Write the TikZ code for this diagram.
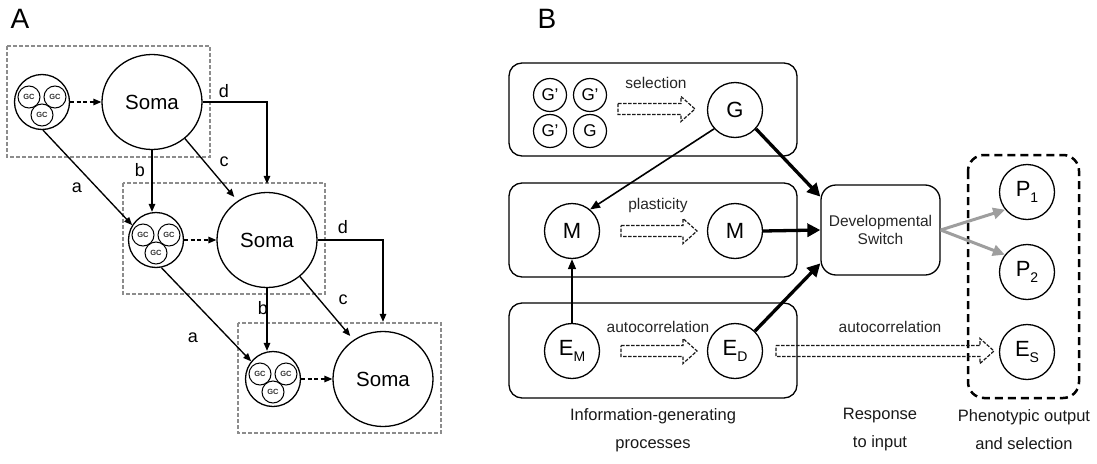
\documentclass[tikz,border=0pt]{standalone}
\usepackage{fontspec}
\setmainfont{Liberation Sans}
\usetikzlibrary{arrows.meta,shapes.geometric,calc}
% lowered subscript inside circle labels
\newcommand\lowsub[1]{\raisebox{-6.5pt}{\fontsize{14}{14}\selectfont #1}}
% cluster of three GC cells inside one circle
\newcommand\gcgroup[3]{%
  \node[gcbig] (#1) at (#2,#3) {};
  \node[gcsmall] (#1a) at (#2-13,#3-5) {GC};
  \node[gcsmall] (#1b) at (#2+13,#3-5) {GC};
  \node[gcsmall] (#1c) at (#2,#3+13) {GC};
}
% dashed block arrow: from x #1 to x #2 at height #3
\newcommand\blockarrow[3]{%
  \draw[hollow] (#1,#3-5.5) -- (#2-14,#3-5.5) -- (#2-14,#3-12.5) -- (#2,#3)
    -- (#2-14,#3+12.5) -- (#2-14,#3+5.5) -- (#1,#3+5.5) -- cycle;
}
\begin{document}
\begin{tikzpicture}[x=1pt,y=-1pt,
  every node/.style={inner sep=0pt},
  panel/.style={font=\fontsize{28}{30}\selectfont},
  lbl/.style={font=\fontsize{18}{20}\selectfont},
  soma/.style={draw,ellipse,line width=1.3pt,minimum width=100pt,minimum height=95pt,
    font=\fontsize{20.5}{22}\selectfont},
  gcbig/.style={draw,circle,line width=1.3pt,minimum size=55pt},
  gcsmall/.style={draw,circle,line width=1pt,minimum size=22pt,
    font=\bfseries\fontsize{7.5}{8}\selectfont,text=black!80},
  region/.style={draw=black!45,line width=1.2pt,dash pattern=on 4pt off 2pt},
  arr/.style={-{Triangle[length=8pt,width=6.5pt]},line width=1.35pt},
  darr/.style={arr,dash pattern=on 4pt off 2.5pt},
  box/.style={draw,rounded corners=13pt,line width=1.3pt},
  var/.style={draw,circle,line width=1.3pt,minimum size=55pt,font=\fontsize{22}{24}\selectfont},
  varsmall/.style={draw,circle,line width=1.2pt,minimum size=33pt,font=\fontsize{17}{19}\selectfont},
  switchbox/.style={draw,rounded corners=15pt,line width=1.3pt,minimum width=119pt,minimum height=90pt,
    align=center,font=\fontsize{15.5}{18}\selectfont,text=black!85},
  tarr/.style={-{Triangle[length=10pt,width=8pt]},line width=1.6pt},
  harr/.style={-{Triangle[length=13pt,width=13pt]},line width=3.3pt},
  garr/.style={-{Triangle[length=12pt,width=11pt]},line width=3pt,draw=black!38,fill=black!38},
  hollow/.style={draw=black!90,line width=1.2pt,dash pattern=on 3.5pt off 1.5pt},
  note/.style={font=\fontsize{15.5}{17}\selectfont,text=black!85},
  caption/.style={align=center,font=\fontsize{16.5}{28}\selectfont,text=black!90},
  outbox/.style={draw,line width=2.5pt,dash pattern=on 8pt off 5pt,rounded corners=16pt}
]
\useasboundingbox (0,0) rectangle (1097,463);

% ---------------- panel A ----------------
\node[panel] (labA) at (20,19) {A};

\draw[region] (7,46) rectangle (210,157);
\draw[region] (123,183) rectangle (325,294);
\draw[region] (238,323) rectangle (441,433);

\gcgroup{gc1}{42}{102}
\gcgroup{gc2}{156}{240}
\gcgroup{gc3}{273}{379}

\node[soma] (soma1) at (152,102) {Soma};
\node[soma] (soma2) at (267,240) {Soma};
\node[soma] (soma3) at (383,379) {Soma};

\draw[darr] (gc1.east) -- (soma1.west);
\draw[darr] (gc2.east) -- (soma2.west);
\draw[darr] (gc3.east) -- (soma3.west);

% a
\draw[arr] (gc1.-88) -- (gc2.148);
\draw[arr] (gc2.-79) -- (gc3.141);
% b
\draw[arr] (soma1.south) -- (soma1.south |- gc2.north);
\draw[arr] (soma2.south) -- (soma2.south |- gc3.north);
% c
\draw[arr,shorten >=5pt] (soma1.-48) -- (soma2.127);
\draw[arr,shorten >=5pt] (soma2.-48) -- (soma3.127);
% d
\draw[arr,shorten >=8pt] (soma1.east) -| (soma2.north);
\draw[arr,shorten >=9pt] (soma2.east) -| (soma3.north);

\node[lbl] (la1) at (77,188) {a};
\node[lbl] (lb1) at (140,170) {b};
\node[lbl] (lc1) at (224,162) {c};
\node[lbl] (ld1) at (224,91) {d};
\node[lbl] (la2) at (193,338) {a};
\node[lbl] (lb2) at (263,308) {b};
\node[lbl] (lc2) at (343,300) {c};
\node[lbl] (ld2) at (343,227) {d};

% ---------------- panel B ----------------
\node[panel] (labB) at (547,19) {B};

\draw[box] (509,63) rectangle (797,156);
\draw[box] (509,183) rectangle (797,277);
\draw[box] (509,303) rectangle (797,398);

\node[varsmall] (g1) at (550,95) {G'};
\node[varsmall] (g2) at (590,95) {G'};
\node[varsmall] (g3) at (550,131) {G'};
\node[varsmall] (g4) at (590,131) {G};
\node[note] (tsel) at (656,83) {selection};
\blockarrow{618}{695}{109}
\node[var] (G) at (735,110) {G};

\node[var] (M1) at (572,231) {M};
\node[note] (tpla) at (658,205) {plasticity};
\blockarrow{621}{697}{231}
\node[var] (M2) at (735,231) {M};

\node[var] (EM) at (572,351) {E\lowsub{M}};
\node[note] (tac1) at (658,327) {autocorrelation};
\blockarrow{621}{697}{351}
\node[var] (ED) at (735,351) {E\lowsub{D}};

\node[switchbox] (sw) at (880.5,230) {Developmental\\Switch};

\draw[outbox] (968,155) rectangle (1079,398);
\node[var] (P1) at (1027,192) {P\lowsub{1}};
\node[var] (P2) at (1027,272) {P\lowsub{2}};
\node[var] (ES) at (1027,352) {E\lowsub{S}};

\node[note] (tac2) at (890,327) {autocorrelation};
\blockarrow{776}{994}{351}

\draw[tarr] (G.-138) -- (M1.50);
\draw[tarr] (EM.north) -- (M1.south);
\draw[harr] (G.-42) -- (sw.151);
\draw[harr] (M2.east) -- (sw.west);
\draw[harr] (ED.45) -- (sw.-151);
\draw[garr] (sw.east) -- (P1.-141);
\draw[garr] (sw.east) -- (P2.142);

\node[caption] (cap1) at (653,430) {Information-generating\\processes};
\node[caption] (cap2) at (880,430) {Response\\to input};
\node[caption] (cap3) at (1024,430) {Phenotypic output\\and selection};
\end{tikzpicture}
\end{document}
